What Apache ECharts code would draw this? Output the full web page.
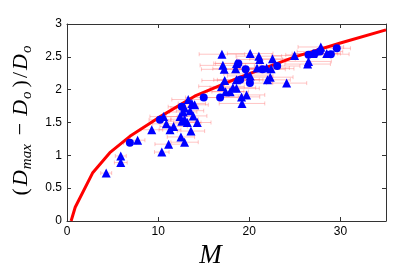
<!DOCTYPE html>
<html>
<head>
<meta charset="utf-8">
<script src="https://cdn.jsdelivr.net/npm/echarts@6/dist/echarts.min.js"></script>
<style>html,body{margin:0;padding:0;background:#fff}#c{width:415px;height:266px}</style>
</head>
<body>
<div id="c"></div>
<script>
// Fitted curve (M, (Dmax-Do)/Do)
const curveM = [0.45, 0.9, 2.8, 4.7, 6.9, 10, 14, 19, 25, 30, 35];
const curveY = [0, 0.21, 0.73, 1.04, 1.29, 1.57, 1.9, 2.19, 2.5, 2.71, 2.91];

// Triangle markers: M, value, horizontal error
const triM = [4.3, 5.9, 5.9, 7.75, 9.3, 10.4, 11.15, 12.5, 12.9, 13.6, 14.3, 10.9, 11.3, 11.7, 12.4, 12.6, 12.9, 13.2, 10.6, 12.75,
  13.5, 13.85, 13.3, 13.7, 12.9, 14.0, 17.0, 17.1, 17.25, 17.3, 16.95, 17.4, 17.9, 18.2, 18.6, 19.15, 19.2, 19.7, 18.6, 18.5,
  18.6, 19.7, 20.1, 20.1, 21.05, 21.15, 20.85, 21.9, 22.55, 22.4, 22.3, 22.0, 24.1, 24.97, 26.4, 26.5, 27.0, 27.85, 28.5];
const triY = [0.73, 0.99, 0.89, 1.23, 1.39, 1.05, 1.17, 1.28, 1.2, 1.37, 1.5, 1.48, 1.39, 1.44, 1.59, 1.52, 1.55, 1.5, 1.59, 1.66,
  1.68, 1.6, 1.85, 1.79, 1.72, 1.77, 2.54, 2.37, 2.31, 2.14, 2.05, 1.97, 1.97, 2.03, 2.02, 1.89, 1.79, 1.92, 2.4, 2.32,
  2.15, 2.24, 2.21, 2.55, 2.51, 2.46, 2.33, 2.33, 2.47, 2.32, 2.19, 2.15, 2.1, 2.52, 2.39, 2.43, 2.55, 2.65, 2.55];
const triErr = [0.6, 0.6, 0.7, 0.8, 1.2, 0.8, 1.5, 1.5, 1.5, 1.5, 1.5, 1.5, 1.2, 1.5, 1.5, 1.5, 1.5, 1.5, 1.5, 1.5,
  1.5, 1.5, 1.8, 1.5, 1.5, 1.5, 2.5, 2.5, 2.5, 2.5, 2.5, 2.0, 2.0, 2.5, 2.5, 2.0, 2.5, 2.0, 2.5, 2.5,
  2.5, 2.5, 2.5, 2.5, 2.5, 2.5, 2.5, 2.5, 2.5, 2.5, 2.5, 2.5, 2.2, 2.5, 2.5, 2.5, 2.0, 2.5, 1.5];

// Circle markers: M, value, horizontal error
const circM = [6.9, 10.2, 12.6, 15.0, 16.8, 18.8, 19.6, 19.0, 20.07, 21.45, 23.06, 26.5, 27.2, 27.75, 28.95, 29.6];
const circY = [1.19, 1.54, 1.74, 1.88, 1.88, 2.4, 2.31, 2.15, 2.1, 2.31, 2.36, 2.53, 2.55, 2.58, 2.54, 2.63];
const circErr = [0.7, 1.2, 1.5, 2.0, 2.0, 2.5, 2.5, 2.5, 2.5, 2.5, 2.5, 2.5, 2.5, 2.5, 2.0, 1.5];

// Axis ticks
const xTicks = [0, 10, 20, 30];
const xMax = 35;
const yTicks = [0, 0.5, 1, 1.5, 2, 2.5, 3];

const curveData = curveM.map((m, i) => [m, curveY[i]]);
const triData = triM.map((m, i) => [m, triY[i], triErr[i]]);
const circData = circM.map((m, i) => [m, circY[i], circErr[i]]);
const errData = triData.concat(circData);

const axisColor = '#333';
function xAx(pos, showLabel) {
  return {
    type: 'value', position: pos, min: xTicks[0], max: xMax, interval: xTicks[1] - xTicks[0],
    axisLine: {show: true, onZero: false, lineStyle: {color: axisColor, width: 1}},
    axisTick: {show: true, inside: true, length: 4, lineStyle: {color: axisColor}},
    splitLine: {show: false},
    axisLabel: {show: showLabel, showMaxLabel: false, margin: 5, fontSize: 12, color: '#000', fontFamily: 'Liberation Sans'}
  };
}
function yAx(pos, showLabel) {
  return {
    type: 'value', position: pos, min: yTicks[0], max: yTicks[yTicks.length - 1], interval: yTicks[1] - yTicks[0],
    axisLine: {show: true, onZero: false, lineStyle: {color: axisColor, width: 1}},
    axisTick: {show: true, inside: true, length: 4, lineStyle: {color: axisColor}},
    splitLine: {show: false},
    axisLabel: {show: showLabel, margin: 5, fontSize: 12, color: '#000', fontFamily: 'Liberation Sans'}
  };
}

const xb = xAx('bottom', true);
xb.name = 'M';
xb.nameLocation = 'middle';
xb.nameGap = 6;
xb.nameTextStyle = {fontFamily: 'Liberation Serif', fontStyle: 'italic', fontSize: 27, color: '#000', verticalAlign: 'top', padding: [0, 32, 0, 0]};

const yl = yAx('left', true);
yl.name = '{p|(}{i|D}{s|max}{m|−}{i|D}{so|o}{p|)}{p|/}{i|D}{s|o}';
yl.nameLocation = 'middle';
yl.nameRotate = 90;
yl.nameGap = 30;
const serif = 'Liberation Serif';
yl.nameTextStyle = {
  padding: [0, 0, 0, 6],
  rich: {
    p: {fontFamily: serif, fontSize: 22, color: '#000', lineHeight: 26, padding: [0, 2, 0, 0]},
    m: {fontFamily: serif, fontSize: 22, color: '#000', lineHeight: 26, padding: [0, 7, 0, 7]},
    i: {fontFamily: serif, fontStyle: 'italic', fontSize: 22, color: '#000', lineHeight: 26, padding: [0, 1, 0, 0]},
    s: {fontFamily: serif, fontStyle: 'italic', fontSize: 15, color: '#000', lineHeight: 15, verticalAlign: 'bottom', padding: [0, 2, 0, 0]},
    so: {fontFamily: serif, fontStyle: 'italic', fontSize: 15, color: '#000', lineHeight: 15, verticalAlign: 'bottom', padding: [0, 4, 0, 0]}
  }
};

const chart = echarts.init(document.getElementById('c'), null, {renderer: 'canvas'});
chart.setOption({
  animation: false,
  backgroundColor: '#fff',
  grid: {left: 67, right: 29, top: 24, bottom: 45, containLabel: false, outerBoundsMode: 'none'},
  xAxis: [xb, xAx('top', false)],
  yAxis: [yl, yAx('right', false)],
  series: [
    {
      type: 'custom', xAxisIndex: 0, yAxisIndex: 0, z: 1,
      data: errData,
      renderItem: function (params, api) {
        const m = api.value(0), y = api.value(1), e = api.value(2);
        const p1 = api.coord([m - e, y]), p2 = api.coord([m + e, y]);
        const st = {stroke: 'rgba(255,90,90,0.35)', lineWidth: 1};
        return {type: 'group', children: [
          {type: 'line', shape: {x1: p1[0], y1: p1[1], x2: p2[0], y2: p2[1]}, style: st},
          {type: 'line', shape: {x1: p1[0], y1: p1[1] - 2, x2: p1[0], y2: p1[1] + 2}, style: st},
          {type: 'line', shape: {x1: p2[0], y1: p2[1] - 2, x2: p2[0], y2: p2[1] + 2}, style: st}
        ]};
      }
    },
    {
      type: 'line', data: curveData, z: 2, symbol: 'none', smooth: false,
      lineStyle: {color: '#ff0000', width: 3}
    },
    {
      type: 'scatter', data: triData, z: 3, symbol: 'triangle', symbolSize: 9,
      itemStyle: {color: '#0000ff', opacity: 1}
    },
    {
      type: 'scatter', data: circData, z: 3, symbol: 'circle', symbolSize: 8,
      itemStyle: {color: '#0000ff', opacity: 1}
    }
  ]
});
</script>
</body>
</html>
